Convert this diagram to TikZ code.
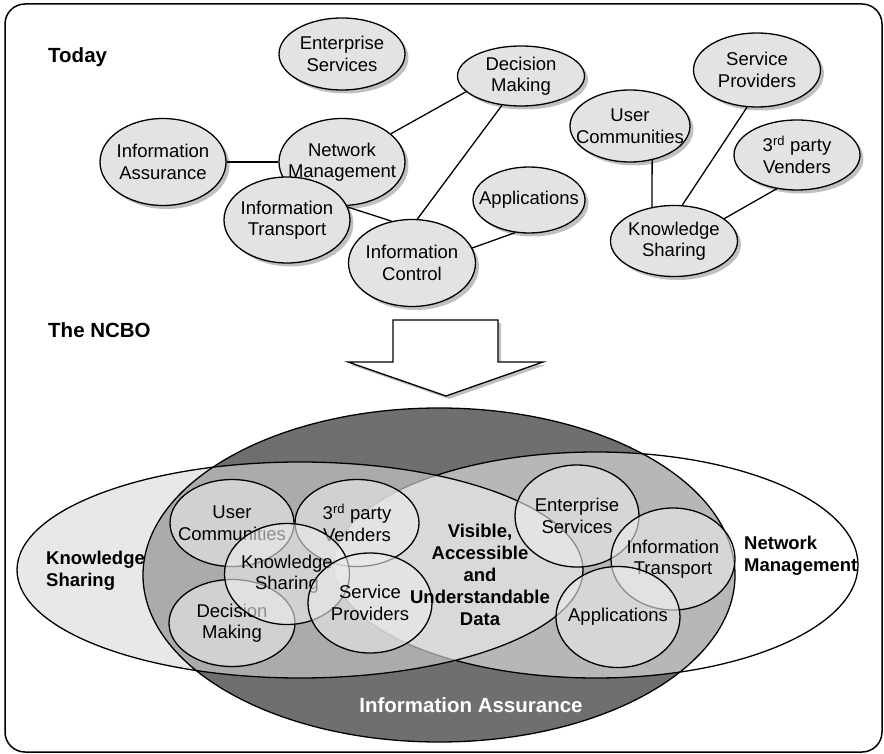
\documentclass[tikz,border=0pt]{standalone}
\usepackage{fontspec}
\setmainfont{Liberation Sans}
\usetikzlibrary{shapes.geometric,shadows}

\definecolor{bubblegray}{gray}{0.89}
\definecolor{iadark}{gray}{0.435}
\definecolor{ksgray}{gray}{0.845}
\definecolor{ringgray}{gray}{0.92}

\newcommand\bodysize{\fontsize{18.5}{21.5}\selectfont}
\newcommand\boldsize{\fontsize{18.5}{22}\selectfont\bfseries}
\newcommand\headsize{\fontsize{20.5}{24}\selectfont\bfseries}

\begin{document}
\begin{tikzpicture}[x=1pt,y=-1pt,
  outline/.style={line width=1.3pt},
  bubble/.style={ellipse, draw, outline, fill=bubblegray, inner sep=0pt,
    drop shadow={shadow xshift=3.5pt, shadow yshift=-3.5pt, fill=black!45, opacity=0.55}},
  txt/.style={align=center, font=\bodysize, inner sep=0pt, text opacity=1, fill opacity=1},
  conn/.style={line width=1.3pt},
  ring/.style={ellipse, draw, outline, fill=ringgray, fill opacity=0.6, inner sep=0pt},
  heading/.style={font=\headsize, inner sep=0pt, anchor=base west},
  region/.style={font=\boldsize, inner sep=0pt},
]
\useasboundingbox (0,0) rectangle (884,754);

% frame
\draw[line width=1.5pt, rounded corners=20pt] (5,4) rectangle (882,752);

% headings
\node[heading] (today) at (48,62.5) {Today};
\node[heading] (ncbo) at (48,337) {The NCBO};

% ---- current situation: loosely linked capabilities ----
\node[bubble, minimum width=126pt, minimum height=72pt,
  label={[txt]center:Enterprise\\Services}] (es) at (342,54) {};
\node[bubble, minimum width=126pt, minimum height=87pt,
  label={[txt]center:Information\\Assurance}] (ia) at (163,162) {};
\node[bubble, minimum width=126pt, minimum height=87pt,
  label={[txt]center:Network\\Management}] (nm) at (342,162) {};
\node[bubble, minimum width=126pt, minimum height=86pt,
  label={[txt]center:Information\\Transport}] (it) at (287,220) {};
\node[bubble, minimum width=127pt, minimum height=87pt,
  label={[txt]center:Information\\Control}] (ic) at (412,263) {};
\node[bubble, minimum width=127pt, minimum height=60pt,
  label={[txt]center:Decision\\Making}] (dm) at (521,76) {};
\node[bubble, minimum width=112pt, minimum height=66pt,
  label={[txt]center:Applications}] (app) at (529,200) {};
\node[bubble, minimum width=120pt, minimum height=72pt,
  label={[txt]center:User\\Communities}] (uc) at (630,126) {};
\node[bubble, minimum width=127pt, minimum height=74pt,
  label={[txt]center:Service\\Providers}] (sp) at (757,70) {};
\node[bubble, minimum width=126pt, minimum height=70pt,
  label={[txt]center:3\textsuperscript{rd} party\\Venders}] (tp) at (797,155) {};
\node[bubble, minimum width=127pt, minimum height=71pt,
  label={[txt]center:Knowledge\\Sharing}] (ks) at (674,241) {};

\draw[conn] (ia.east) -- (nm.west);
\draw[conn] (nm.30) -- (dm.196);
\draw[conn] (it.12) -- (ic.116);
\draw[conn] (ic.83) -- (dm.237);
\draw[conn] (ic.14) -- (app.247);
\draw[conn] (uc.303) -- (ks.123.5);
\draw[conn] (sp.255) -- (ks.77.5);
\draw[conn] (tp.239) -- (ks.24);

% transition arrow
\draw[outline, fill=white,
  drop shadow={shadow xshift=3pt, shadow yshift=-3pt, fill=black!45, opacity=0.55}]
  (393,320) -- (498,320) -- (498,362) -- (543,362) -- (446,396)
  -- (348,362) -- (393,362) -- cycle;

% ---- net-centric view: overlapping domains ----
\fill[iadark] (439,575) ellipse [x radius=296, y radius=167];
\fill[white, fill opacity=0.5] (596,565) ellipse [x radius=262, y radius=113];
\draw[outline] (596,565) ellipse [x radius=262, y radius=113];
\fill[ksgray, fill opacity=0.58] (300,570) ellipse [x radius=283, y radius=108];
% shared data core is lighter
\begin{scope}
  \clip (300,570) ellipse [x radius=283, y radius=108];
  \fill[white, fill opacity=0.3] (596,565) ellipse [x radius=262, y radius=113];
\end{scope}
\draw[outline] (300,570) ellipse [x radius=283, y radius=108];
\draw[outline] (439,575) ellipse [x radius=296, y radius=167];

\node[ring, minimum width=124pt, minimum height=87pt,
  label={[txt]center:User\\Communities}] (vuc) at (232,523) {};
\node[ring, minimum width=124pt, minimum height=87pt,
  label={[txt]center:3\textsuperscript{rd} party\\Venders}] (vtp) at (357,523) {};
\node[ring, minimum width=126pt, minimum height=87pt,
  label={[txt]center:Decision\\Making}] (vdm) at (232,623) {};
\node[ring, minimum width=125pt, minimum height=101pt,
  label={[txt]center:Knowledge\\Sharing}] (vks) at (287,574) {};
\node[ring, minimum width=124pt, minimum height=100pt,
  label={[txt]center:Service\\Providers}] (vsp) at (370,603) {};
\node[ring, minimum width=124pt, minimum height=102pt,
  label={[txt]center:Enterprise\\Services}] (ves) at (577,516) {};
\node[ring, minimum width=124pt, minimum height=102pt,
  label={[txt]center:Information\\Transport}] (vit) at (673,559) {};
\node[ring, minimum width=124pt, minimum height=101pt,
  label={[txt]center:Applications}] (vapp) at (618,617) {};

\node[region, align=left, anchor=west] (kslabel) at (46,571) {Knowledge\\Sharing};
\node[region, align=left, anchor=west] (nmlabel) at (744,556) {Network\\Management};
\node[region, align=center] (data) at (480,575)
  {Visible,\\Accessible\\and\\Understandable\\Data};
\node[font=\headsize, text=white, inner sep=0pt, anchor=base] (ialabel) at (471,712)
  {Information Assurance};
\end{tikzpicture}
\end{document}
